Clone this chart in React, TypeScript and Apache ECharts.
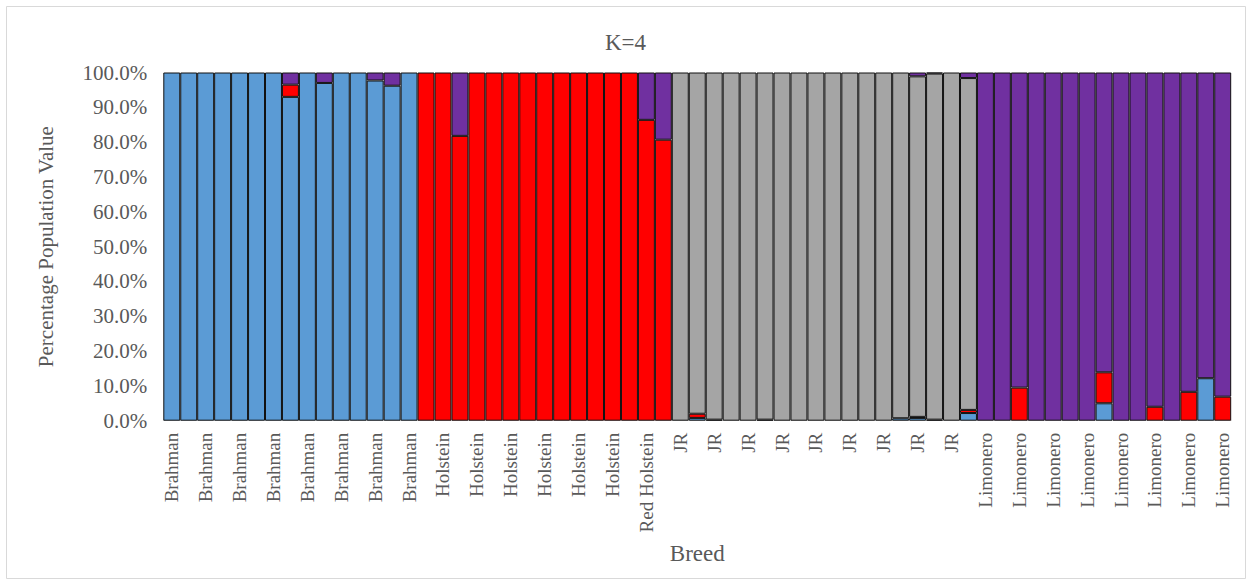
import React, { useEffect, useRef } from "react";
import * as echarts from "echarts";

// 63 individuals, grouped by breed
const categories: string[] = [
  // Brahman (15)
  "Brahman", "Brahman", "Brahman", "Brahman", "Brahman", "Brahman", "Brahman", "Brahman",
  "Brahman", "Brahman", "Brahman", "Brahman", "Brahman", "Brahman", "Brahman",
  // Holstein (13)
  "Holstein", "Holstein", "Holstein", "Holstein", "Holstein", "Holstein", "Holstein",
  "Holstein", "Holstein", "Holstein", "Holstein", "Holstein", "Holstein",
  // Red Holstein (2)
  "Red Holstein", "Red Holstein",
  // JR (18)
  "JR", "JR", "JR", "JR", "JR", "JR", "JR", "JR", "JR",
  "JR", "JR", "JR", "JR", "JR", "JR", "JR", "JR", "JR",
  // Limonero (15)
  "Limonero", "Limonero", "Limonero", "Limonero", "Limonero", "Limonero", "Limonero", "Limonero",
  "Limonero", "Limonero", "Limonero", "Limonero", "Limonero", "Limonero", "Limonero",
];

// Cluster 1 (blue)
const cluster1: number[] = [
  100, 100, 100, 100, 100, 100, 100, 93.0, 100, 97.0, 100, 100, 97.7, 96.2, 100,
  0, 0, 0, 0, 0, 0, 0, 0, 0, 0, 0, 0, 0, 0, 0,
  0, 0.8, 0.3, 0, 0, 0.3, 0, 0, 0, 0, 0, 0, 0, 0.7, 0.8, 0.3, 0, 2.2,
  0, 0, 0, 0, 0, 0, 0, 5.0, 0, 0, 0, 0, 0, 12.2, 0,
];

// Cluster 2 (red)
const cluster2: number[] = [
  0, 0, 0, 0, 0, 0, 0, 3.5, 0, 0, 0, 0, 0, 0, 0,
  100, 100, 81.8, 100, 100, 100, 100, 100, 100, 100, 100, 100, 100, 86.4, 80.7,
  0, 1.2, 0, 0, 0, 0, 0, 0, 0, 0, 0, 0, 0, 0, 0.3, 0, 0, 0.9,
  0, 0, 9.5, 0, 0, 0, 0, 8.9, 0, 0, 4.0, 0, 8.3, 0, 6.9,
];

// Cluster 3 (grey)
const cluster3: number[] = [
  0, 0, 0, 0, 0, 0, 0, 0, 0, 0, 0, 0, 0, 0, 0,
  0, 0, 0, 0, 0, 0, 0, 0, 0, 0, 0, 0, 0, 0, 0,
  100, 98.0, 99.7, 100, 100, 99.7, 100, 100, 100, 100, 100, 100, 100, 99.3, 97.8, 99.4, 100, 95.3,
  0, 0, 0, 0, 0, 0, 0, 0, 0, 0, 0, 0, 0, 0, 0,
];

// Cluster 4 (purple)
const cluster4: number[] = [
  0, 0, 0, 0, 0, 0, 0, 3.5, 0, 3.0, 0, 0, 2.3, 3.8, 0,
  0, 0, 18.2, 0, 0, 0, 0, 0, 0, 0, 0, 0, 0, 13.6, 19.3,
  0, 0, 0, 0, 0, 0, 0, 0, 0, 0, 0, 0, 0, 0, 1.1, 0.3, 0, 1.6,
  100, 100, 90.5, 100, 100, 100, 100, 86.1, 100, 100, 96.0, 100, 91.7, 87.8, 93.1,
];

const seriesNames = ["Cluster 1", "Cluster 2", "Cluster 3", "Cluster 4"];
const seriesColors = ["#5B9BD5", "#FF0000", "#A5A5A5", "#7030A0"];
const yTicks = { min: 0, max: 100, interval: 10 };

export default function App() {
  const ref = useRef<HTMLDivElement>(null);
  useEffect(() => {
    if (!ref.current) return;
    const chart = echarts.init(ref.current, null, { renderer: "svg" });
    const font = "'Liberation Serif', 'Times New Roman', serif";
    const textColor = "#595959";
    const toData = (arr: number[]) => arr.map((v) => (v === 0 ? "-" : v));
    const allData = [cluster1, cluster2, cluster3, cluster4];
    chart.setOption({
      animation: false,
      backgroundColor: "#ffffff",
      title: {
        text: "K=4",
        left: 600,
        top: 26,
        textStyle: { fontFamily: font, fontSize: 23, fontWeight: "normal", color: textColor },
      },
      graphic: [
        {
          type: "rect",
          silent: true,
          z: -10,
          shape: { x: 6.5, y: 6.5, width: 1239, height: 572 },
          style: { fill: "none", stroke: "#d9d9d9", lineWidth: 1 },
        },
      ],
      grid: { left: 163.3, right: 20.8, top: 72.5, bottom: 163.3, containLabel: false },
      xAxis: {
        type: "category",
        data: categories,
        name: "Breed",
        nameLocation: "middle",
        nameGap: 121,
        nameTextStyle: { fontFamily: font, fontSize: 23, color: textColor },
        axisLine: { show: true, lineStyle: { color: "#d9d9d9" } },
        axisTick: { show: false },
        axisLabel: {
          interval: 1,
          rotate: 90,
          margin: 12,
          fontFamily: font,
          fontSize: 19,
          color: textColor,
        },
      },
      yAxis: {
        type: "value",
        min: yTicks.min,
        max: yTicks.max,
        interval: yTicks.interval,
        name: "Percentage Population Value",
        nameLocation: "middle",
        nameGap: 107,
        nameTextStyle: { fontFamily: font, fontSize: 21, color: textColor },
        axisLine: { show: false },
        axisTick: { show: false },
        splitLine: { show: false },
        axisLabel: {
          margin: 16,
          fontFamily: font,
          fontSize: 21,
          color: textColor,
          formatter: (v: number) => v.toFixed(1) + "%",
        },
      },
      series: allData.map((arr, i) => ({
        name: seriesNames[i],
        type: "bar",
        stack: "total",
        barCategoryGap: "0%",
        data: toData(arr),
        itemStyle: { color: seriesColors[i], borderColor: "#111111", borderWidth: 1 },
      })),
    });
    return () => chart.dispose();
  }, []);
  return (
    <div
      ref={ref}
      style={{ position: "fixed", left: 0, top: 0, width: 1252, height: 584, background: "#fff" }}
    />
  );
}
